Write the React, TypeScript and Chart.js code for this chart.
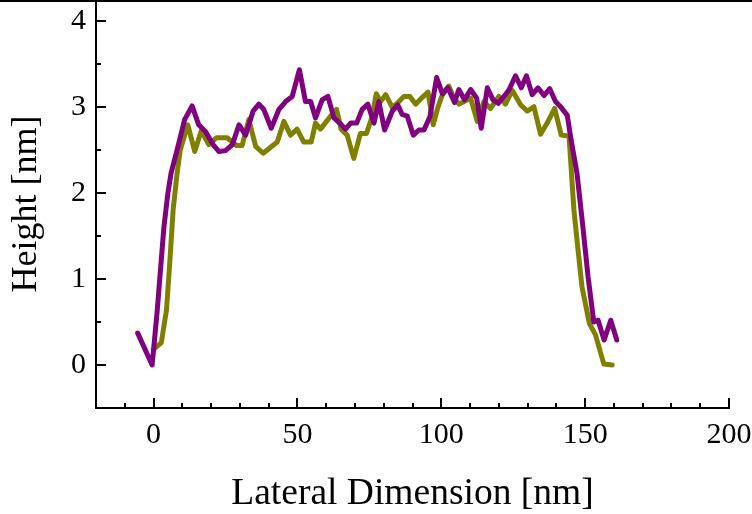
import React, { useEffect, useRef } from "react";
import { Chart, registerables } from "chart.js";

Chart.register(...registerables);

// Purple profile (lateral position [nm], height [nm])
const PURPLE_X = [
  -5.5, -0.5, 1.2, 2.4, 3.6, 5.0, 6.1, 8.5, 10.8, 13.4, 15.7, 18.1, 20.7, 22.7, 25.0, 27.4, 29.7, 32.0,
  34.6, 36.6, 38.3, 40.9, 43.6, 45.9, 48.2, 50.7, 52.8, 54.6, 56.3, 58.6, 60.6, 62.7, 64.7, 66.7, 68.5,
  70.6, 72.5, 74.5, 76.6, 78.3, 80.3, 83.0, 84.9, 86.4, 88.2, 90.3, 92.2, 94.0, 96.1, 98.4, 100.4, 102.3,
  104.6, 106.1, 108.1, 110.2, 112.3, 113.9, 116.0, 118.0, 119.8, 121.8, 123.6, 125.8, 127.8, 129.6, 131.6,
  133.6, 135.7, 137.7, 139.7, 141.7, 143.8, 145.0, 147.2, 149.3, 151.0, 153.0, 154.5, 156.6, 158.9, 161.0,
];
const PURPLE_Y = [
  0.37, 0.0, 0.6, 1.1, 1.6, 2.0, 2.23, 2.54, 2.85, 3.01, 2.79, 2.71, 2.56, 2.48, 2.49, 2.56, 2.79, 2.67,
  2.95, 3.03, 2.97, 2.75, 2.97, 3.06, 3.12, 3.43, 3.06, 3.06, 2.87, 3.08, 3.12, 2.87, 2.81, 2.74, 2.81,
  2.81, 2.97, 3.03, 2.81, 3.06, 2.73, 2.95, 3.02, 2.91, 2.89, 2.67, 2.73, 2.73, 2.89, 3.34, 3.15, 3.22,
  3.05, 3.2, 3.08, 3.2, 3.1, 2.75, 3.22, 3.08, 3.04, 3.12, 3.2, 3.36, 3.22, 3.36, 3.14,
  3.22, 3.13, 3.21, 3.06, 2.99, 2.9, 2.64, 2.22, 1.58, 1.03, 0.5, 0.52, 0.29, 0.52, 0.29,
];

// Olive profile (lateral position [nm], height [nm])
const OLIVE_X = [
  0.0, 2.7, 4.5, 5.7, 6.8, 8.2, 9.3, 11.9, 14.3, 16.6, 19.2, 21.9, 25.6, 28.8, 30.8, 33.1, 35.5, 38.1,
  40.7, 43.0, 45.3, 47.6, 49.9, 52.2, 54.8, 56.3, 58.0, 61.5, 63.6, 65.2, 67.3, 69.6, 71.9, 74.0, 76.0,
  77.4, 78.9, 80.7, 83.0, 85.3, 87.0, 89.1, 91.1, 93.4, 95.4, 97.2, 98.8, 100.4, 102.6, 104.4, 106.2,
  107.9, 110.2, 112.5, 114.8, 117.1, 120.0, 122.3, 124.7, 127.6, 129.9, 132.2, 134.5, 136.8, 139.4,
  141.7, 144.4, 146.1, 147.3, 148.9, 151.5, 153.6, 156.5, 159.4,
];
const OLIVE_Y = [
  0.18, 0.26, 0.64, 1.22, 1.8, 2.23, 2.5, 2.79, 2.48, 2.72, 2.56, 2.64, 2.64, 2.55, 2.55, 2.85, 2.54, 2.46,
  2.53, 2.59, 2.83, 2.67, 2.74, 2.59, 2.59, 2.81, 2.74, 2.89, 2.97, 2.74, 2.67, 2.4, 2.69, 2.69, 2.89,
  3.15, 3.06, 3.14, 2.99, 3.06, 3.12, 3.12, 3.03, 3.11, 3.17, 2.79, 2.99, 3.14, 3.24, 3.1, 3.03,
  3.06, 3.1, 2.83, 3.06, 2.98, 3.12, 3.03, 3.19, 3.02, 2.95, 3.0, 2.68, 2.81, 2.98,
  2.67, 2.66, 1.8, 1.41, 0.91, 0.48, 0.35, 0.01, 0.0,
];

const X_TICKS = [0, 50, 100, 150, 200];
const Y_TICKS = [0, 1, 2, 3, 4];
const X_MIN = -20;
const X_MAX = 200;
const Y_MIN = -0.5;
const Y_MAX = 4.24;
const X_MINOR_STEP = 10;
const Y_MINOR_STEP = 0.5;

const FONT_FAMILY = "'Liberation Serif', 'Times New Roman', serif";

const inwardTicks = {
  id: "inwardTicks",
  afterDraw(chart: any) {
    const { ctx, chartArea } = chart;
    const xs = chart.scales.x;
    const ys = chart.scales.y;
    ctx.save();
    ctx.strokeStyle = "#000";
    ctx.lineWidth = 2;
    const nx = Math.round((X_MAX - X_MIN) / X_MINOR_STEP);
    for (let i = 1; i <= nx; i++) {
      const v = X_MIN + i * X_MINOR_STEP;
      const major = X_TICKS.includes(v);
      const px = Math.round(xs.getPixelForValue(v));
      ctx.beginPath();
      ctx.moveTo(px, chartArea.bottom);
      ctx.lineTo(px, chartArea.bottom - (major ? 10 : 5));
      ctx.stroke();
    }
    const ny = Math.floor((Y_MAX - Y_MIN) / Y_MINOR_STEP + 1e-9);
    for (let i = 1; i <= ny; i++) {
      const v = Y_MIN + i * Y_MINOR_STEP;
      const major = Y_TICKS.some((t) => Math.abs(t - v) < 1e-9);
      const py = Math.round(ys.getPixelForValue(v));
      ctx.beginPath();
      ctx.moveTo(chartArea.left, py);
      ctx.lineTo(chartArea.left + (major ? 10 : 5), py);
      ctx.stroke();
    }
    ctx.restore();
  },
};

export default function App() {
  const canvasRef = useRef<HTMLCanvasElement | null>(null);

  useEffect(() => {
    if (!canvasRef.current) return;
    const purple = PURPLE_X.map((x, i) => ({ x, y: PURPLE_Y[i] }));
    const olive = OLIVE_X.map((x, i) => ({ x, y: OLIVE_Y[i] }));
    const chart = new Chart(canvasRef.current, {
      type: "line",
      data: {
        datasets: [
          {
            data: purple,
            borderColor: "#800080",
            borderWidth: 5,
            pointRadius: 0,
            tension: 0,
            borderJoinStyle: "round",
            borderCapStyle: "round",
          },
          {
            data: olive,
            borderColor: "#808000",
            borderWidth: 5,
            pointRadius: 0,
            tension: 0,
            borderJoinStyle: "round",
            borderCapStyle: "round",
          },
        ],
      },
      options: {
        responsive: false,
        animation: false,
        clip: false,
        layout: { padding: { left: 0, right: 23, top: 0, bottom: 0 } },
        plugins: { legend: { display: false }, tooltip: { enabled: false } },
        scales: {
          x: {
            type: "linear",
            min: X_MIN,
            max: X_MAX,
            grid: { display: false, drawTicks: false },
            border: { display: true, color: "#000", width: 2 },
            afterBuildTicks: (scale: any) => {
              scale.ticks = X_TICKS.map((v) => ({ value: v }));
            },
            afterFit: (scale: any) => {
              scale.height = 106;
              scale.paddingLeft = 0;
              scale.paddingRight = 0;
            },
            ticks: {
              color: "#000",
              padding: 9,
              maxRotation: 0,
              autoSkip: false,
              font: { family: FONT_FAMILY, size: 30 },
            },
            title: {
              display: true,
              text: "Lateral Dimension [nm]",
              color: "#000",
              padding: { top: 0, bottom: -3 },
              font: { family: FONT_FAMILY, size: 37.5 },
            },
          },
          y: {
            type: "linear",
            min: Y_MIN,
            max: Y_MAX,
            grid: { display: false, drawTicks: false },
            border: { display: true, color: "#000", width: 2 },
            afterBuildTicks: (scale: any) => {
              scale.ticks = Y_TICKS.map((v) => ({ value: v }));
            },
            afterFit: (scale: any) => {
              scale.width = 96;
              scale.paddingTop = 0;
              scale.paddingBottom = 0;
            },
            ticks: {
              color: "#000",
              padding: 10,
              autoSkip: false,
              font: { family: FONT_FAMILY, size: 30 },
            },
            title: {
              display: true,
              text: "Height [nm]",
              color: "#000",
              padding: { top: 5, bottom: 0 },
              font: { family: FONT_FAMILY, size: 36 },
            },
          },
        },
      },
      plugins: [inwardTicks],
    } as any);
    return () => chart.destroy();
  }, []);

  return (
    <div style={{ position: "absolute", left: 0, top: 0, width: 752, height: 514, background: "#fff" }}>
      <canvas ref={canvasRef} width={752} height={514} style={{ display: "block" }} />
      <div style={{ position: "absolute", left: 0, top: 0, width: 752, height: 2, background: "#000" }} />
    </div>
  );
}
